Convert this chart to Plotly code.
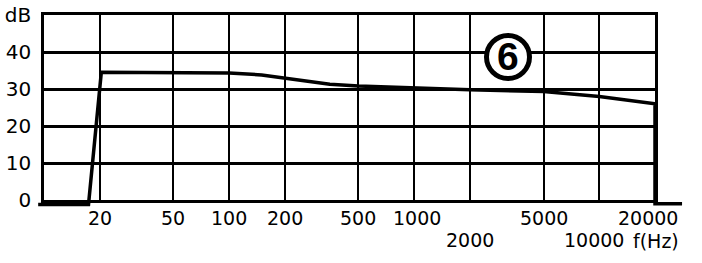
import math
import plotly.graph_objects as go

# ---- data ----
freq_hz = [9.3, 17.4, 20.4, 50, 100, 150, 200, 350, 500, 1000, 2000, 5000, 10000, 20000, 20000, 28000]
level_db = [-1.2, -1.2, 34.5, 34.5, 34.3, 33.8, 33.0, 31.3, 30.8, 30.2, 29.8, 29.3, 28.0, 26.0, -1.0, -1.0]

x_tick_vals = [20, 50, 100, 200, 500, 1000, 2000, 5000, 10000, 20000]
x_tick_text = ["20", "50", "100", "200", "500", "1000", "2000", "5000", "10000", "20000"]
y_tick_vals = [0, 10, 20, 30, 40, 50]
y_tick_text = ["0", "10", "20", "30", "40", "dB"]
x_unit_label = "f(Hz)"
badge_label = "6"

# ---- layout geometry (pixels in a 702x263 canvas) ----
W, H = 702, 263
PX_L, PX_R = 44, 655      # plot frame left/right
PX_T, PX_B = 15, 200      # plot frame top/bottom
X_MIN, X_MAX = 10, 20000
Y_MIN, Y_MAX = 0, 50
ROW1_Y, ROW2_Y = 218, 240
SECOND_ROW = {2000, 10000}
LABEL_XSHIFT = {10000: -5, 20000: -7, 1000: 3}

ppd_x = (PX_R - PX_L) / (math.log10(X_MAX) - math.log10(X_MIN))
ppd_y = (PX_B - PX_T) / (Y_MAX - Y_MIN)

# curve subplot extends beyond frame so the line may overhang it
CX_L, CX_R, CY_B = 30, 695, 215
x2_range = [math.log10(X_MIN) - (PX_L - CX_L) / ppd_x,
            math.log10(X_MAX) + (CX_R - PX_R) / ppd_x]
y2_range = [Y_MIN - (CY_B - PX_B) / ppd_y, Y_MAX]

FONT = "DejaVu Sans"

fig = go.Figure()
fig.add_trace(go.Scatter(
    x=freq_hz, y=level_db, mode="lines",
    line=dict(color="black", width=3.5),
    xaxis="x2", yaxis="y2", showlegend=False, hoverinfo="skip",
))
# invisible trace to keep main axes active
fig.add_trace(go.Scatter(x=[X_MIN], y=[Y_MIN], mode="markers",
                         marker=dict(opacity=0), showlegend=False,
                         hoverinfo="skip"))

fig.update_layout(
    width=W, height=H,
    margin=dict(l=0, r=0, t=0, b=0, autoexpand=False),
    paper_bgcolor="white", plot_bgcolor="rgba(0,0,0,0)",
    font=dict(family=FONT, color="black"),
    xaxis=dict(
        type="log", range=[math.log10(X_MIN), math.log10(X_MAX)],
        domain=[PX_L / W, PX_R / W],
        tickvals=x_tick_vals, showticklabels=False,
        ticks="", automargin=False,
        showgrid=True, gridcolor="black", gridwidth=2,
        showline=True, linecolor="black", linewidth=2.5, mirror=True,
        zeroline=False, fixedrange=True,
    ),
    yaxis=dict(
        range=[Y_MIN, Y_MAX],
        domain=[1 - PX_B / H, 1 - PX_T / H],
        tickvals=y_tick_vals, ticktext=y_tick_text,
        tickfont=dict(family=FONT, size=20, color="black"),
        ticks="", ticklabelstandoff=6, automargin=False,
        showgrid=True, gridcolor="black", gridwidth=2.5,
        showline=True, linecolor="black", linewidth=2.5, mirror=True,
        zeroline=False, fixedrange=True,
    ),
    xaxis2=dict(type="log", range=x2_range, domain=[CX_L / W, CX_R / W],
                anchor="y2", visible=False, fixedrange=True),
    yaxis2=dict(range=y2_range, domain=[1 - CY_B / H, 1 - PX_T / H],
                anchor="x2", visible=False, fixedrange=True),
)

# x tick labels in two staggered rows
for v, t in zip(x_tick_vals, x_tick_text):
    row_y = ROW2_Y if v in SECOND_ROW else ROW1_Y
    fig.add_annotation(x=math.log10(v), xref="x", y=1 - row_y / H, yref="paper",
                       text=t, showarrow=False, xanchor="center", yanchor="middle",
                       xshift=LABEL_XSHIFT.get(v, 0),
                       font=dict(family=FONT, size=19, color="black"))

# circled badge
cx, cy, r = 508, 57, 21.5
fig.add_shape(type="circle", xref="paper", yref="paper",
              x0=(cx - r) / W, x1=(cx + r) / W,
              y0=1 - (cy + r) / H, y1=1 - (cy - r) / H,
              line=dict(color="black", width=5), fillcolor="white",
              layer="above")
fig.add_annotation(x=cx / W, y=1 - cy / H, xref="paper", yref="paper",
                   text="<b>%s</b>" % badge_label, showarrow=False,
                   font=dict(family="Liberation Sans", size=39, color="black"),
                   xanchor="center", yanchor="middle")

# unit label after second-row ticks
fig.add_annotation(x=631 / W, y=1 - (ROW2_Y + 1) / H, xref="paper", yref="paper",
                   text=x_unit_label, showarrow=False,
                   font=dict(family=FONT, size=19, color="black"),
                   xanchor="left", yanchor="middle")

fig.write_html("out.html")
